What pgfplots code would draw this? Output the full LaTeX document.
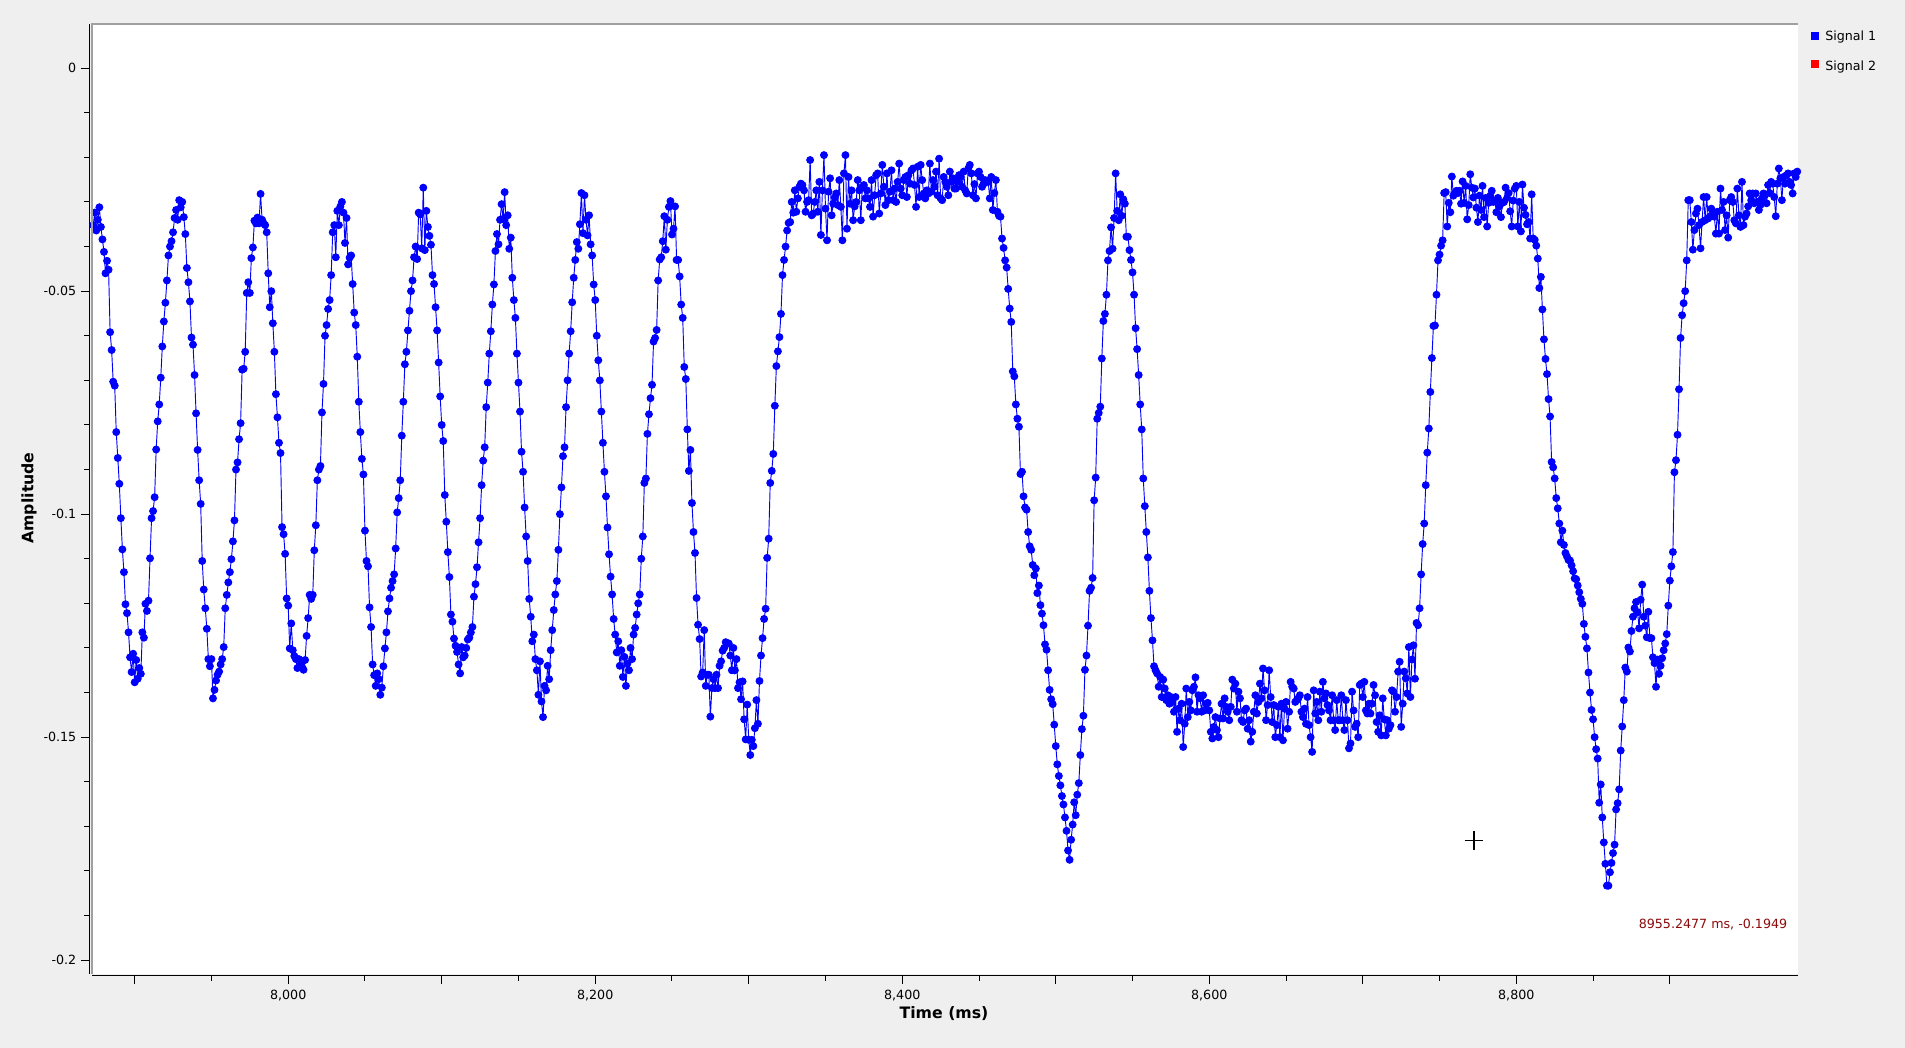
\documentclass[border=0pt]{standalone}
\usepackage{fontspec}
\setmainfont{DejaVu Sans}
\usepackage{pgfplots}
\pgfplotsset{compat=1.18}
\definecolor{bg}{RGB}{239,239,239}
\definecolor{frame}{RGB}{160,160,160}
\definecolor{sig1}{RGB}{0,0,255}
\definecolor{sig2}{RGB}{255,0,0}
\definecolor{track}{RGB}{140,10,10}
\newcommand{\txt}{\fontsize{9.5}{11}\selectfont}
\newcommand{\ttl}{\bfseries\fontsize{11.8}{14}\selectfont}
\begin{document}
\begin{tikzpicture}
\path[use as bounding box] (0,0) rectangle (1428.75pt,786pt);
\fill[bg] (0,0) rectangle (1428.75pt,786pt);
\begin{axis}[
    at={(69pt,55.5pt)}, anchor=south west,
    scale only axis, width=1279.5pt, height=712.5pt,
    xmin=7872.2, xmax=8983.5,
    ymin=-0.2031, ymax=0.0099,
    axis background/.style={fill=white},
    axis x line*=bottom, axis y line*=left,
    axis x line shift=1.5pt, axis y line shift=2.25pt,
    axis line style={black, line width=0.75pt, -},
    tick align=outside,
    major tick length=6pt, minor tick length=3.4pt,
    tick style={black, line width=0.75pt},
    xtick={7900,8000,...,8900},
    xticklabels={,{8,000},,{8,200},,{8,400},,{8,600},,{8,800},},
    xticklabel shift=1pt,
    minor x tick num=1,
    ytick={-0.2,-0.15,-0.1,-0.05,0},
    yticklabels={-0.2,-0.15,-0.1,-0.05,0},
    minor y tick num=4,
    tick label style={font=\txt, text=black},
]
\addplot[sig1, line width=0.7pt, mark=*, mark size=2.6pt,
    mark options={solid, fill=sig1, draw=sig1}] coordinates {
(7873,-0.0352)(7874,-0.0324)(7875,-0.0364)(7876,-0.0340)(7877,-0.0312)(7878,-0.0356)(7879,-0.0384)(7880,-0.0412)
(7881,-0.0460)(7882,-0.0432)(7883,-0.0452)(7884,-0.0592)(7885,-0.0632)(7886,-0.0703)(7887,-0.0712)(7888,-0.0816)
(7889,-0.0874)(7890,-0.0932)(7891,-0.1009)(7892,-0.1079)(7893,-0.1130)(7894,-0.1202)(7895,-0.1222)(7896,-0.1265)
(7897,-0.1321)(7898,-0.1354)(7899,-0.1313)(7900,-0.1377)(7901,-0.1327)(7902,-0.1369)(7903,-0.1345)(7904,-0.1358)
(7905,-0.1265)(7906,-0.1277)(7907,-0.1201)(7908,-0.1217)(7909,-0.1194)(7910,-0.1099)(7911,-0.1009)(7912,-0.0993)
(7913,-0.0962)(7914,-0.0855)(7915,-0.0792)(7916,-0.0754)(7917,-0.0694)(7918,-0.0624)(7919,-0.0568)(7920,-0.0526)
(7921,-0.0476)(7922,-0.0420)(7923,-0.0400)(7924,-0.0388)(7925,-0.0368)(7926,-0.0336)(7927,-0.0318)(7928,-0.0340)
(7929,-0.0296)(7930,-0.0312)(7931,-0.0300)(7932,-0.0334)(7933,-0.0372)(7934,-0.0448)(7935,-0.0480)(7936,-0.0523)
(7937,-0.0604)(7938,-0.0620)(7939,-0.0688)(7940,-0.0774)(7941,-0.0856)(7942,-0.0924)(7943,-0.0977)(7944,-0.1105)
(7945,-0.1169)(7946,-0.1211)(7947,-0.1257)(7948,-0.1325)(7949,-0.1341)(7950,-0.1325)(7951,-0.1413)(7952,-0.1394)
(7953,-0.1373)(7954,-0.1360)(7955,-0.1353)(7956,-0.1337)(7957,-0.1325)(7958,-0.1298)(7959,-0.1211)(7960,-0.1181)
(7961,-0.1153)(7962,-0.1130)(7963,-0.1101)(7964,-0.1061)(7965,-0.1014)(7966,-0.0900)(7967,-0.0884)(7968,-0.0832)
(7969,-0.0796)(7970,-0.0676)(7971,-0.0674)(7972,-0.0636)(7973,-0.0504)(7974,-0.0480)(7975,-0.0504)(7976,-0.0426)
(7977,-0.0402)(7978,-0.0342)(7979,-0.0348)(7980,-0.0335)(7981,-0.0348)(7982,-0.0282)(7983,-0.0340)(7984,-0.0348)
(7985,-0.0352)(7986,-0.0368)(7987,-0.0460)(7988,-0.0536)(7989,-0.0500)(7990,-0.0572)(7991,-0.0636)(7992,-0.0731)
(7993,-0.0783)(7994,-0.0840)(7995,-0.0863)(7996,-0.1029)(7997,-0.1045)(7998,-0.1089)(7999,-0.1189)(8000,-0.1205)
(8001,-0.1301)(8002,-0.1245)(8003,-0.1305)(8004,-0.1318)(8005,-0.1325)(8006,-0.1345)(8007,-0.1325)(8008,-0.1338)
(8009,-0.1342)(8010,-0.1349)(8011,-0.1327)(8012,-0.1273)(8013,-0.1233)(8014,-0.1181)(8015,-0.1190)(8016,-0.1181)
(8017,-0.1081)(8018,-0.1025)(8019,-0.0924)(8020,-0.0900)(8021,-0.0892)(8022,-0.0772)(8023,-0.0708)(8024,-0.0600)
(8025,-0.0576)(8026,-0.0540)(8027,-0.0520)(8028,-0.0464)(8029,-0.0368)(8030,-0.0352)(8031,-0.0424)(8032,-0.0320)
(8033,-0.0352)(8034,-0.0310)(8035,-0.0300)(8036,-0.0324)(8037,-0.0392)(8038,-0.0336)(8039,-0.0440)(8040,-0.0425)
(8041,-0.0420)(8042,-0.0484)(8043,-0.0548)(8044,-0.0576)(8045,-0.0647)(8046,-0.0748)(8047,-0.0816)(8048,-0.0876)
(8049,-0.0911)(8050,-0.1037)(8051,-0.1105)(8052,-0.1117)(8053,-0.1209)(8054,-0.1253)(8055,-0.1337)(8056,-0.1361)
(8057,-0.1385)(8058,-0.1357)(8059,-0.1370)(8060,-0.1405)(8061,-0.1389)(8062,-0.1341)(8063,-0.1301)(8064,-0.1265)
(8065,-0.1218)(8066,-0.1189)(8067,-0.1165)(8068,-0.1150)(8069,-0.1135)(8070,-0.1077)(8071,-0.0996)(8072,-0.0964)
(8073,-0.0924)(8074,-0.0824)(8075,-0.0748)(8076,-0.0664)(8077,-0.0636)(8078,-0.0588)(8079,-0.0544)(8080,-0.0500)
(8081,-0.0476)(8082,-0.0424)(8083,-0.0400)(8084,-0.0428)(8085,-0.0324)(8086,-0.0328)(8087,-0.0404)(8088,-0.0268)
(8089,-0.0408)(8090,-0.0320)(8091,-0.0356)(8092,-0.0376)(8093,-0.0396)(8094,-0.0464)(8095,-0.0484)(8096,-0.0536)
(8097,-0.0588)(8098,-0.0660)(8099,-0.0736)(8100,-0.0800)(8101,-0.0836)(8102,-0.0957)(8103,-0.1017)(8104,-0.1085)
(8105,-0.1141)(8106,-0.1225)(8107,-0.1241)(8108,-0.1279)(8109,-0.1295)(8110,-0.1309)(8111,-0.1337)(8112,-0.1357)
(8113,-0.1298)(8114,-0.1321)(8115,-0.1317)(8116,-0.1300)(8117,-0.1281)(8118,-0.1277)(8119,-0.1265)(8120,-0.1253)
(8121,-0.1185)(8122,-0.1157)(8123,-0.1119)(8124,-0.1063)(8125,-0.1009)(8126,-0.0935)(8127,-0.0880)(8128,-0.0850)
(8129,-0.0760)(8130,-0.0705)(8131,-0.0640)(8132,-0.0590)(8133,-0.0530)(8134,-0.0485)(8135,-0.0410)(8136,-0.0372)
(8137,-0.0395)(8138,-0.0340)(8139,-0.0305)(8140,-0.0338)(8141,-0.0278)(8142,-0.0352)(8143,-0.0330)(8144,-0.0405)
(8145,-0.0380)(8146,-0.0470)(8147,-0.0520)(8148,-0.0560)(8149,-0.0640)(8150,-0.0705)(8151,-0.0770)(8152,-0.0860)
(8153,-0.0905)(8154,-0.0985)(8155,-0.1050)(8156,-0.1105)(8157,-0.1190)(8158,-0.1230)(8159,-0.1285)(8160,-0.1270)
(8161,-0.1325)(8162,-0.1350)(8163,-0.1405)(8164,-0.1330)(8165,-0.1420)(8166,-0.1455)(8167,-0.1385)(8168,-0.1395)
(8169,-0.1340)(8170,-0.1370)(8171,-0.1305)(8172,-0.1260)(8173,-0.1215)(8174,-0.1180)(8175,-0.1150)(8176,-0.1080)
(8177,-0.1000)(8178,-0.0940)(8179,-0.0870)(8180,-0.0850)(8181,-0.0760)(8182,-0.0700)(8183,-0.0640)(8184,-0.0590)
(8185,-0.0525)(8186,-0.0470)(8187,-0.0430)(8188,-0.0390)(8189,-0.0405)(8190,-0.0350)(8191,-0.0280)(8192,-0.0370)
(8193,-0.0285)(8194,-0.0340)(8195,-0.0375)(8196,-0.0330)(8197,-0.0395)(8198,-0.0420)(8199,-0.0485)(8200,-0.0520)
(8201,-0.0600)(8202,-0.0655)(8203,-0.0700)(8204,-0.0770)(8205,-0.0840)(8206,-0.0905)(8207,-0.0960)(8208,-0.1030)
(8209,-0.1090)(8210,-0.1140)(8211,-0.1180)(8212,-0.1235)(8213,-0.1270)(8214,-0.1310)(8215,-0.1285)(8216,-0.1340)
(8217,-0.1305)(8218,-0.1365)(8219,-0.1320)(8220,-0.1385)(8221,-0.1335)(8222,-0.1350)(8223,-0.1300)(8224,-0.1325)
(8225,-0.1270)(8226,-0.1255)(8227,-0.1225)(8228,-0.1200)(8229,-0.1180)(8230,-0.1100)(8231,-0.1050)(8232,-0.0930)
(8233,-0.0920)(8234,-0.0820)(8235,-0.0776)(8236,-0.0740)(8237,-0.0710)(8238,-0.0613)(8239,-0.0605)(8240,-0.0587)
(8241,-0.0476)(8242,-0.0429)(8243,-0.0424)(8244,-0.0388)(8245,-0.0332)(8246,-0.0407)(8247,-0.0340)(8248,-0.0311)
(8249,-0.0298)(8250,-0.0373)(8251,-0.0360)(8252,-0.0310)(8253,-0.0430)(8254,-0.0430)(8255,-0.0467)(8256,-0.0530)
(8257,-0.0560)(8258,-0.0670)(8259,-0.0697)(8260,-0.0810)(8261,-0.0903)(8262,-0.0856)(8263,-0.0975)(8264,-0.1040)
(8265,-0.1087)(8266,-0.1188)(8267,-0.1248)(8268,-0.1280)(8269,-0.1364)(8270,-0.1355)(8271,-0.1260)(8272,-0.1385)
(8273,-0.1360)(8274,-0.1360)(8275,-0.1454)(8276,-0.1390)(8277,-0.1370)(8278,-0.1390)(8279,-0.1360)(8280,-0.1390)
(8281,-0.1340)(8282,-0.1330)(8283,-0.1306)(8284,-0.1300)(8285,-0.1287)(8286,-0.1290)(8287,-0.1290)(8288,-0.1317)
(8289,-0.1350)(8290,-0.1300)(8291,-0.1350)(8292,-0.1325)(8293,-0.1390)(8294,-0.1377)(8295,-0.1415)(8296,-0.1375)
(8297,-0.1460)(8298,-0.1505)(8299,-0.1427)(8300,-0.1506)(8301,-0.1540)(8302,-0.1506)(8303,-0.1520)(8304,-0.1480)
(8305,-0.1417)(8306,-0.1470)(8307,-0.1374)(8308,-0.1317)(8309,-0.1278)(8310,-0.1235)(8311,-0.1212)(8312,-0.1098)
(8313,-0.1055)(8314,-0.0930)(8315,-0.0903)(8316,-0.0865)(8317,-0.0757)(8318,-0.0668)(8319,-0.0635)(8320,-0.0603)
(8321,-0.0551)(8322,-0.0464)(8323,-0.0430)(8324,-0.0400)(8325,-0.0364)(8326,-0.0347)(8327,-0.0345)(8328,-0.0300)
(8329,-0.0324)(8330,-0.0274)(8331,-0.0322)(8332,-0.0292)(8333,-0.0266)(8334,-0.0259)(8335,-0.0262)(8336,-0.0274)
(8337,-0.0322)(8338,-0.0300)(8339,-0.0296)(8340,-0.0206)(8341,-0.0330)(8342,-0.0326)(8343,-0.0300)(8344,-0.0274)
(8345,-0.0322)(8346,-0.0255)(8347,-0.0374)(8348,-0.0274)(8349,-0.0195)(8350,-0.0315)(8351,-0.0386)(8352,-0.0277)
(8353,-0.0247)(8354,-0.0330)(8355,-0.0304)(8356,-0.0290)(8357,-0.0281)(8358,-0.0307)(8359,-0.0251)(8360,-0.0311)
(8361,-0.0386)(8362,-0.0236)(8363,-0.0195)(8364,-0.0360)(8365,-0.0244)(8366,-0.0304)(8367,-0.0274)(8368,-0.0341)
(8369,-0.0310)(8370,-0.0300)(8371,-0.0251)(8372,-0.0274)(8373,-0.0341)(8374,-0.0266)(8375,-0.0262)(8376,-0.0292)
(8377,-0.0274)(8378,-0.0292)(8379,-0.0311)(8380,-0.0251)(8381,-0.0333)(8382,-0.0285)(8383,-0.0240)(8384,-0.0236)
(8385,-0.0326)(8386,-0.0281)(8387,-0.0217)(8388,-0.0266)(8389,-0.0307)(8390,-0.0236)(8391,-0.0296)(8392,-0.0277)
(8393,-0.0229)(8394,-0.0296)(8395,-0.0270)(8396,-0.0300)(8397,-0.0255)(8398,-0.0214)(8399,-0.0270)(8400,-0.0285)
(8401,-0.0251)(8402,-0.0244)(8403,-0.0289)(8404,-0.0240)(8405,-0.0259)(8406,-0.0229)(8407,-0.0225)(8408,-0.0262)
(8409,-0.0311)(8410,-0.0221)(8411,-0.0289)(8412,-0.0217)(8413,-0.0251)(8414,-0.0281)(8415,-0.0292)(8416,-0.0274)
(8417,-0.0281)(8418,-0.0214)(8419,-0.0277)(8420,-0.0251)(8421,-0.0266)(8422,-0.0232)(8423,-0.0285)(8424,-0.0203)
(8425,-0.0292)(8426,-0.0296)(8427,-0.0244)(8428,-0.0255)(8429,-0.0266)(8430,-0.0285)(8431,-0.0232)(8432,-0.0255)
(8433,-0.0247)(8434,-0.0270)(8435,-0.0270)(8436,-0.0255)(8437,-0.0240)(8438,-0.0244)(8439,-0.0266)(8440,-0.0232)
(8441,-0.0274)(8442,-0.0281)(8443,-0.0225)(8444,-0.0217)(8445,-0.0236)(8446,-0.0285)(8447,-0.0260)(8448,-0.0292)
(8449,-0.0236)(8450,-0.0232)(8451,-0.0244)(8452,-0.0266)(8453,-0.0259)(8454,-0.0251)(8455,-0.0255)(8456,-0.0255)
(8457,-0.0292)(8458,-0.0244)(8459,-0.0318)(8460,-0.0280)(8461,-0.0251)(8462,-0.0322)(8463,-0.0331)(8464,-0.0333)
(8465,-0.0382)(8466,-0.0403)(8467,-0.0431)(8468,-0.0447)(8469,-0.0495)(8470,-0.0539)(8471,-0.0569)(8472,-0.0680)
(8473,-0.0691)(8474,-0.0754)(8475,-0.0786)(8476,-0.0804)(8477,-0.0910)(8478,-0.0905)(8479,-0.0960)(8480,-0.0985)
(8481,-0.0990)(8482,-0.1040)(8483,-0.1072)(8484,-0.1080)(8485,-0.1114)(8486,-0.1137)(8487,-0.1122)(8488,-0.1177)
(8489,-0.1160)(8490,-0.1204)(8491,-0.1223)(8492,-0.1249)(8493,-0.1292)(8494,-0.1304)(8495,-0.1350)(8496,-0.1394)
(8497,-0.1415)(8498,-0.1426)(8499,-0.1472)(8500,-0.1520)(8501,-0.1561)(8502,-0.1587)(8503,-0.1608)(8504,-0.1632)
(8505,-0.1651)(8506,-0.1680)(8507,-0.1710)(8508,-0.1754)(8509,-0.1775)(8510,-0.1730)(8511,-0.1696)(8512,-0.1646)
(8513,-0.1675)(8514,-0.1629)(8515,-0.1603)(8516,-0.1540)(8517,-0.1482)(8518,-0.1452)(8519,-0.1349)(8520,-0.1317)
(8521,-0.1250)(8522,-0.1172)(8523,-0.1165)(8524,-0.1143)(8525,-0.0969)(8526,-0.0918)(8527,-0.0786)(8528,-0.0773)
(8529,-0.0759)(8530,-0.0651)(8531,-0.0567)(8532,-0.0551)(8533,-0.0508)(8534,-0.0431)(8535,-0.0410)(8536,-0.0357)
(8537,-0.0405)(8538,-0.0336)(8539,-0.0236)(8540,-0.0320)(8541,-0.0341)(8542,-0.0283)(8543,-0.0331)(8544,-0.0294)
(8545,-0.0304)(8546,-0.0378)(8547,-0.0378)(8548,-0.0408)(8549,-0.0430)(8550,-0.0458)(8551,-0.0508)(8552,-0.0583)
(8553,-0.0630)(8554,-0.0688)(8555,-0.0754)(8556,-0.0810)(8557,-0.0920)(8558,-0.0982)(8559,-0.1040)(8560,-0.1097)
(8561,-0.1172)(8562,-0.1233)(8563,-0.1283)(8564,-0.1341)(8565,-0.1350)(8566,-0.1357)(8567,-0.1387)(8568,-0.1365)
(8569,-0.1410)(8570,-0.1371)(8571,-0.1391)(8572,-0.1417)(8573,-0.1406)(8574,-0.1425)(8575,-0.1410)(8576,-0.1421)
(8577,-0.1443)(8578,-0.1410)(8579,-0.1488)(8580,-0.1436)(8581,-0.1462)(8582,-0.1425)(8583,-0.1522)(8584,-0.1470)
(8585,-0.1391)(8586,-0.1455)(8587,-0.1421)(8588,-0.1440)(8589,-0.1395)(8590,-0.1387)(8591,-0.1366)(8592,-0.1443)
(8593,-0.1406)(8594,-0.1413)(8595,-0.1443)(8596,-0.1406)(8597,-0.1440)(8598,-0.1425)(8599,-0.1423)(8600,-0.1440)
(8601,-0.1488)(8602,-0.1503)(8603,-0.1477)(8604,-0.1455)(8605,-0.1484)(8606,-0.1500)(8607,-0.1458)(8608,-0.1425)
(8609,-0.1458)(8610,-0.1413)(8611,-0.1432)(8612,-0.1443)(8613,-0.1462)(8614,-0.1432)(8615,-0.1371)(8616,-0.1391)
(8617,-0.1380)(8618,-0.1443)(8619,-0.1398)(8620,-0.1413)(8621,-0.1462)(8622,-0.1466)(8623,-0.1440)(8624,-0.1436)
(8625,-0.1481)(8626,-0.1462)(8627,-0.1510)(8628,-0.1488)(8629,-0.1443)(8630,-0.1406)(8631,-0.1447)(8632,-0.1421)
(8633,-0.1380)(8634,-0.1413)(8635,-0.1346)(8636,-0.1395)(8637,-0.1462)(8638,-0.1428)(8639,-0.1350)(8640,-0.1410)
(8641,-0.1466)(8642,-0.1428)(8643,-0.1500)(8644,-0.1473)(8645,-0.1432)(8646,-0.1500)(8647,-0.1425)(8648,-0.1507)
(8649,-0.1436)(8650,-0.1421)(8651,-0.1481)(8652,-0.1443)(8653,-0.1376)(8654,-0.1387)(8655,-0.1391)(8656,-0.1421)
(8657,-0.1417)(8658,-0.1413)(8659,-0.1406)(8660,-0.1443)(8661,-0.1455)(8662,-0.1436)(8663,-0.1470)(8664,-0.1410)
(8665,-0.1473)(8666,-0.1500)(8667,-0.1533)(8668,-0.1395)(8669,-0.1447)(8670,-0.1421)(8671,-0.1462)(8672,-0.1398)
(8673,-0.1443)(8674,-0.1376)(8675,-0.1413)(8676,-0.1402)(8677,-0.1428)(8678,-0.1440)(8679,-0.1462)(8680,-0.1406)
(8681,-0.1462)(8682,-0.1484)(8683,-0.1417)(8684,-0.1462)(8685,-0.1462)(8686,-0.1406)(8687,-0.1462)(8688,-0.1484)
(8689,-0.1417)(8690,-0.1462)(8691,-0.1525)(8692,-0.1514)(8693,-0.1398)(8694,-0.1440)(8695,-0.1477)(8696,-0.1470)
(8697,-0.1500)(8698,-0.1383)(8699,-0.1380)(8700,-0.1410)(8701,-0.1376)(8702,-0.1440)(8703,-0.1447)(8704,-0.1425)
(8705,-0.1447)(8706,-0.1425)(8707,-0.1383)(8708,-0.1406)(8709,-0.1466)(8710,-0.1488)(8711,-0.1451)(8712,-0.1496)
(8713,-0.1413)(8714,-0.1460)(8715,-0.1496)(8716,-0.1462)(8717,-0.1481)(8718,-0.1473)(8719,-0.1395)(8720,-0.1398)
(8721,-0.1443)(8722,-0.1410)(8723,-0.1353)(8724,-0.1331)(8725,-0.1477)(8726,-0.1425)(8727,-0.1353)(8728,-0.1368)
(8729,-0.1402)(8730,-0.1298)(8731,-0.1410)(8732,-0.1326)(8733,-0.1294)(8734,-0.1369)(8735,-0.1244)(8736,-0.1249)
(8737,-0.1211)(8738,-0.1135)(8739,-0.1067)(8740,-0.1021)(8741,-0.0935)(8742,-0.0862)(8743,-0.0808)(8744,-0.0726)
(8745,-0.0650)(8746,-0.0578)(8747,-0.0577)(8748,-0.0508)(8749,-0.0431)(8750,-0.0418)(8751,-0.0398)(8752,-0.0386)
(8753,-0.0280)(8754,-0.0278)(8755,-0.0355)(8756,-0.0302)(8757,-0.0323)(8758,-0.0243)(8759,-0.0286)(8760,-0.0280)
(8761,-0.0275)(8762,-0.0280)(8763,-0.0275)(8764,-0.0304)(8765,-0.0254)(8766,-0.0302)(8767,-0.0264)(8768,-0.0339)
(8769,-0.0307)(8770,-0.0238)(8771,-0.0268)(8772,-0.0290)(8773,-0.0270)(8774,-0.0313)(8775,-0.0345)(8776,-0.0286)
(8777,-0.0318)(8778,-0.0264)(8779,-0.0334)(8780,-0.0291)(8781,-0.0355)(8782,-0.0302)(8783,-0.0286)(8784,-0.0275)
(8785,-0.0300)(8786,-0.0297)(8787,-0.0323)(8788,-0.0291)(8789,-0.0310)(8790,-0.0334)(8791,-0.0302)(8792,-0.0300)
(8793,-0.0268)(8794,-0.0291)(8795,-0.0280)(8796,-0.0321)(8797,-0.0355)(8798,-0.0297)(8799,-0.0270)(8800,-0.0264)
(8801,-0.0355)(8802,-0.0300)(8803,-0.0366)(8804,-0.0261)(8805,-0.0313)(8806,-0.0329)(8807,-0.0350)(8808,-0.0345)
(8809,-0.0382)(8810,-0.0283)(8811,-0.0382)(8812,-0.0385)(8813,-0.0398)(8814,-0.0427)(8815,-0.0493)(8816,-0.0468)
(8817,-0.0541)(8818,-0.0608)(8819,-0.0652)(8820,-0.0686)(8821,-0.0742)(8822,-0.0781)(8823,-0.0883)(8824,-0.0895)
(8825,-0.0920)(8826,-0.0964)(8827,-0.0987)(8828,-0.1021)(8829,-0.1063)(8830,-0.1037)(8831,-0.1069)(8832,-0.1087)
(8833,-0.1095)(8834,-0.1103)(8835,-0.1104)(8836,-0.1115)(8837,-0.1128)(8838,-0.1144)(8839,-0.1146)(8840,-0.1160)
(8841,-0.1175)(8842,-0.1190)(8843,-0.1201)(8844,-0.1246)(8845,-0.1275)(8846,-0.1301)(8847,-0.1355)(8848,-0.1400)
(8849,-0.1439)(8850,-0.1460)(8851,-0.1500)(8852,-0.1527)(8853,-0.1548)(8854,-0.1647)(8855,-0.1606)(8856,-0.1680)
(8857,-0.1736)(8858,-0.1784)(8859,-0.1833)(8860,-0.1833)(8861,-0.1803)(8862,-0.1782)(8863,-0.1760)(8864,-0.1741)
(8865,-0.1662)(8866,-0.1648)(8867,-0.1617)(8868,-0.1530)(8869,-0.1476)(8870,-0.1417)(8871,-0.1344)(8872,-0.1353)
(8873,-0.1299)(8874,-0.1308)(8875,-0.1262)(8876,-0.1230)(8877,-0.1211)(8878,-0.1197)(8879,-0.1220)(8880,-0.1256)
(8881,-0.1192)(8882,-0.1158)(8883,-0.1230)(8884,-0.1250)(8885,-0.1276)(8886,-0.1219)(8887,-0.1278)(8888,-0.1278)
(8889,-0.1321)(8890,-0.1334)(8891,-0.1387)(8892,-0.1326)(8893,-0.1358)(8894,-0.1340)(8895,-0.1323)(8896,-0.1305)
(8897,-0.1290)(8898,-0.1269)(8899,-0.1205)(8900,-0.1149)(8901,-0.1117)(8902,-0.1085)(8903,-0.0906)(8904,-0.0879)
(8905,-0.0822)(8906,-0.0720)(8907,-0.0605)(8908,-0.0554)(8909,-0.0527)(8910,-0.0500)(8911,-0.0431)(8912,-0.0296)
(8913,-0.0296)(8914,-0.0345)(8915,-0.0407)(8916,-0.0363)(8917,-0.0326)(8918,-0.0315)(8919,-0.0352)(8920,-0.0404)
(8921,-0.0345)(8922,-0.0289)(8923,-0.0341)(8924,-0.0289)(8925,-0.0337)(8926,-0.0333)(8927,-0.0315)(8928,-0.0326)
(8929,-0.0333)(8930,-0.0371)(8931,-0.0322)(8932,-0.0371)(8933,-0.0270)(8934,-0.0318)(8935,-0.0300)(8936,-0.0363)
(8937,-0.0330)(8938,-0.0380)(8939,-0.0296)(8940,-0.0289)(8941,-0.0300)(8942,-0.0341)(8943,-0.0348)(8944,-0.0270)
(8945,-0.0330)(8946,-0.0356)(8947,-0.0255)(8948,-0.0352)(8949,-0.0333)(8950,-0.0326)(8951,-0.0310)(8952,-0.0281)
(8953,-0.0296)(8954,-0.0281)(8955,-0.0303)(8956,-0.0281)(8957,-0.0300)(8958,-0.0318)(8959,-0.0307)(8960,-0.0292)
(8961,-0.0281)(8962,-0.0285)(8963,-0.0303)(8964,-0.0262)(8965,-0.0280)(8966,-0.0255)(8967,-0.0259)(8968,-0.0289)
(8969,-0.0332)(8970,-0.0259)(8971,-0.0225)(8972,-0.0247)(8973,-0.0296)(8974,-0.0244)(8975,-0.0259)(8976,-0.0240)
(8977,-0.0236)(8978,-0.0255)(8979,-0.0262)(8980,-0.0281)(8981,-0.0236)(8982,-0.0244)(8983,-0.0232)
};
\end{axis}
% sunken frame of the plot canvas
\draw[frame, line width=1.5pt] (69pt,55.5pt) -- (69pt,768pt) -- (1348.5pt,768pt);
% axis titles
\node[rotate=90, font=\ttl] at (21.75pt,412.5pt) {Amplitude};
\node[font=\ttl] at (708pt,26pt) {Time (ms)};
% legend
\fill[sig1] (1358.25pt,756.2pt) rectangle ++(6pt,6pt);
\node[anchor=base west, inner sep=0pt, font=\txt] at (1368.75pt,755.5pt) {Signal 1};
\fill[sig2] (1358.25pt,734.8pt) rectangle ++(6pt,6pt);
\node[anchor=base west, inner sep=0pt, font=\txt] at (1368.75pt,733pt) {Signal 2};
% tracker text and mouse cursor
\node[anchor=base east, inner sep=0pt, font=\txt, text=track] at (1340.6pt,89.5pt) {8955.2477 ms, -0.1949};
\draw[white, line width=2.4pt] (1098.5pt,155.6pt) -- (1112.5pt,155.6pt) (1105.5pt,148.6pt) -- (1105.5pt,162.6pt);
\draw[black, line width=1.1pt] (1098.5pt,155.6pt) -- (1112.5pt,155.6pt) (1105.5pt,148.6pt) -- (1105.5pt,162.6pt);
\end{tikzpicture}
\end{document}
